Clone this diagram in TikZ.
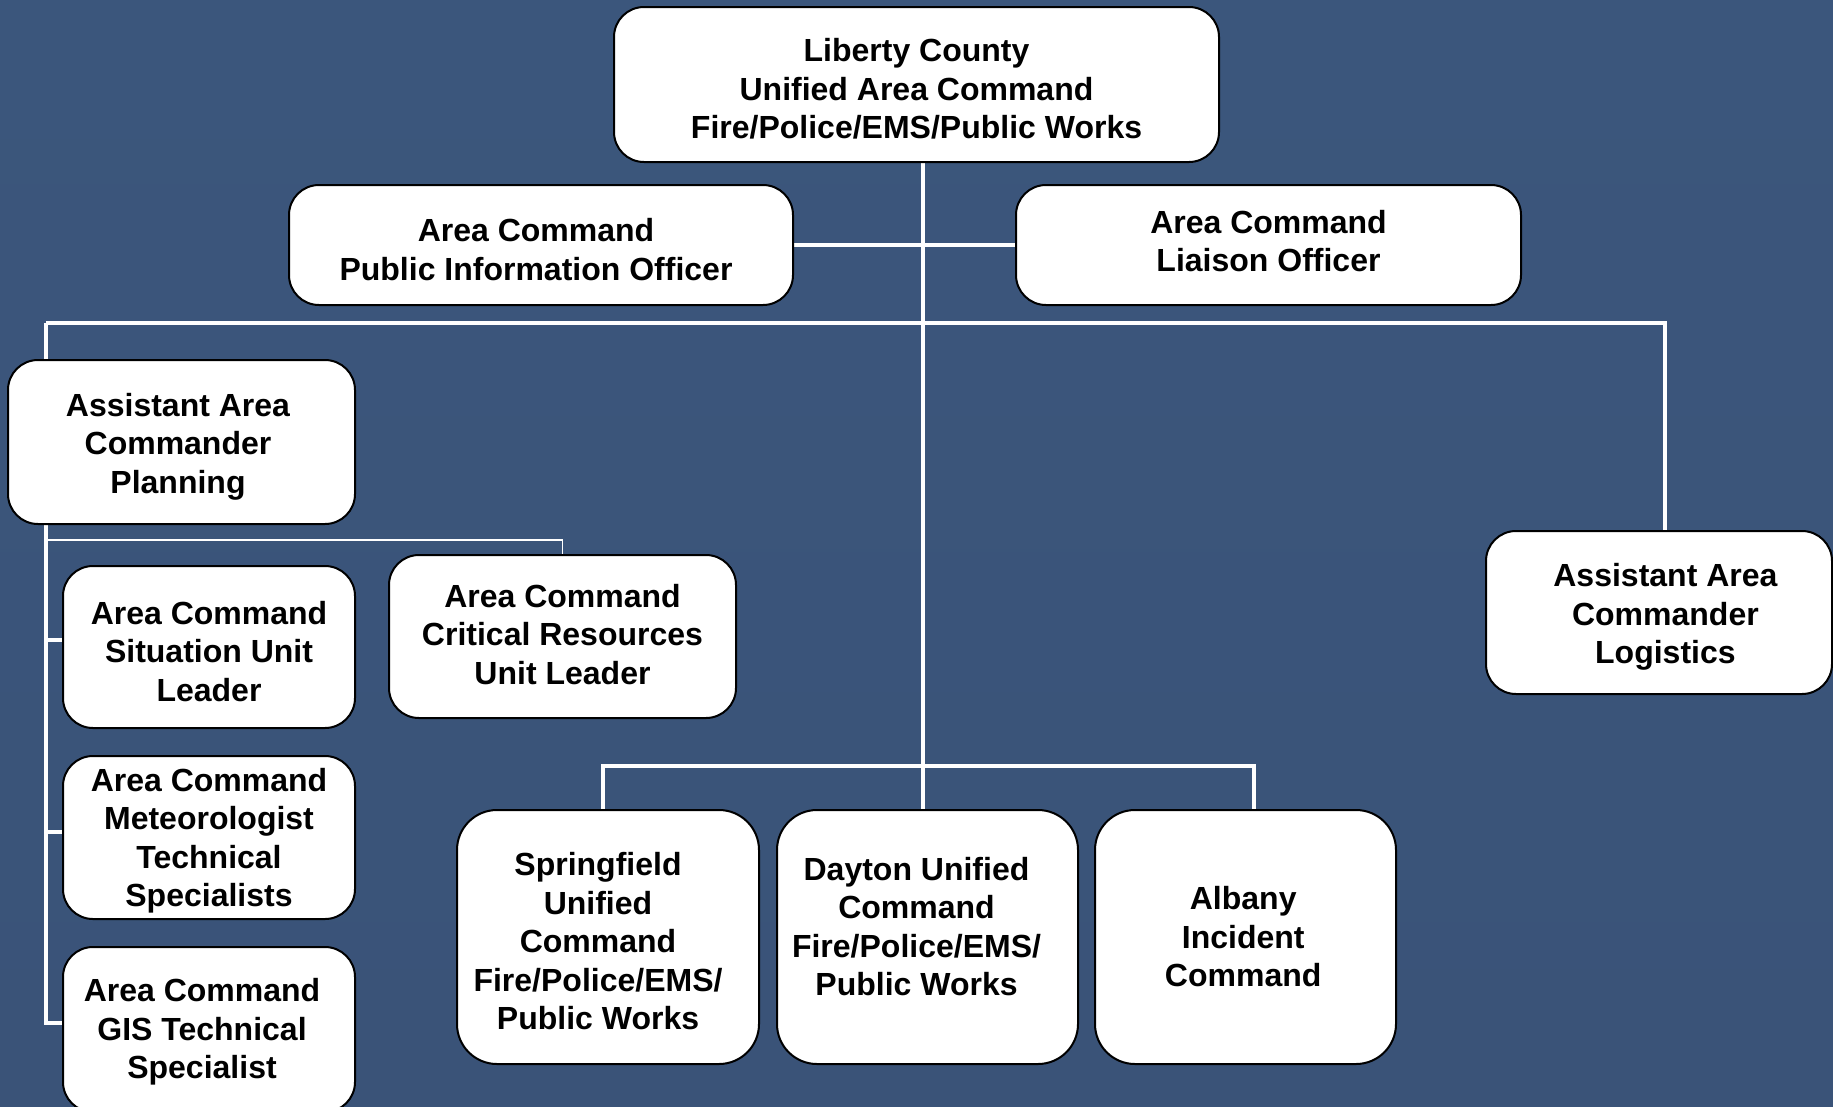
\documentclass[tikz,border=0pt]{standalone}
\usepackage{fontspec}
\setmainfont{Liberation Sans}
\pgfdeclarelayer{bg}
\pgfdeclarelayer{lines}
\pgfsetlayers{bg,lines,main}
\definecolor{bgtop}{RGB}{59,86,124}
\definecolor{bgmid}{RGB}{75,106,149}
\definecolor{bgbot}{RGB}{58,83,120}
\begin{document}
\begin{tikzpicture}[x=1pt,y=-1pt,
  box/.style={draw=black, line width=2pt, fill=white, rounded corners=30pt, inner sep=0pt},
  bigbox/.style={box, rounded corners=40pt},
  txt/.style={align=center, inner sep=0pt, font=\fontsize{32}{38.5}\selectfont\bfseries},
  link/.style={draw=white, line width=4.5pt},
  thinlink/.style={draw=white, line width=1.5pt}]
\useasboundingbox (0,0) rectangle (1833,1106);
\begin{pgfonlayer}{bg}
\shade[top color=bgtop, middle color=bgmid, bottom color=bgbot] (0,0) rectangle (1833,1106);
\end{pgfonlayer}

% boxes
\node[box, minimum width=605pt, minimum height=155pt] (top) at (916.5,84.5) {};
\node[box, minimum width=504pt, minimum height=120pt] (pio) at (541,245) {};
\node[box, minimum width=505pt, minimum height=120pt] (liaison) at (1268.5,245) {};
\node[box, minimum width=347pt, minimum height=164pt] (planning) at (181.5,442) {};
\node[box, minimum width=346pt, minimum height=163pt] (logistics) at (1659,612.5) {};
\node[box, minimum width=292pt, minimum height=162pt] (situation) at (209,647) {};
\node[box, minimum width=347pt, minimum height=163pt] (critical) at (562.5,636.5) {};
\node[box, minimum width=292pt, minimum height=163pt] (meteo) at (209,837.5) {};
\node[box, minimum width=292pt, minimum height=165pt] (gis) at (209,1029.5) {};
\node[bigbox, minimum width=302pt, minimum height=254pt] (springfield) at (608,937) {};
\node[bigbox, minimum width=301pt, minimum height=254pt] (dayton) at (927.5,937) {};
\node[bigbox, minimum width=301pt, minimum height=254pt] (albany) at (1245.5,937) {};

% texts
\node[txt, yshift=-4.7pt] (top-t) at (top) {Liberty County\\Unified Area Command\\Fire/Police/EMS/Public Works};
\node[txt, xshift=-5pt, yshift=-4.7pt] (pio-t) at (pio) {Area Command\\Public Information Officer};
\node[txt, yshift=4pt] (liaison-t) at (liaison) {Area Command\\Liaison Officer};
\node[txt, xshift=-3.5pt, yshift=-4.7pt] (planning-t) at (planning) {Assistant Area\\Commander\\Planning};
\node[txt, xshift=6.4pt, yshift=-4.7pt] (logistics-t) at (logistics) {Assistant Area\\Commander\\Logistics};
\node[txt, yshift=-4.3pt] (situation-t) at (situation) {Area Command\\Situation Unit\\Leader};
\node[txt, yshift=2pt] (critical-t) at (critical) {Area Command\\Critical Resources\\Unit Leader};
\node[txt, yshift=-3pt] (meteo-t) at (meteo) {Area Command\\Meteorologist\\Technical\\Specialists};
\node[txt, xshift=-7pt, yshift=-2.3pt] (gis-t) at (gis) {Area Command\\GIS Technical\\Specialist};
\node[txt, xshift=-10pt, yshift=-4.3pt] (springfield-t) at (springfield) {Springfield\\Unified\\Command\\Fire/Police/EMS/\\Public Works};
\node[txt, xshift=-11pt, yshift=10.3pt] (dayton-t) at (dayton) {Dayton Unified\\Command\\Fire/Police/EMS/\\Public Works};
\node[txt, xshift=-2.3pt] (albany-t) at (albany) {Albany\\Incident\\Command};

% connector points
\coordinate (S) at (923,766);
\coordinate (L) at (46,323);
\coordinate (T) at (46,540);
\coordinate (R) at (1665,323);
\coordinate (P1) at (46,640);
\coordinate (P2) at (46,832);
\coordinate (P3) at (46,1023);
\coordinate (BL) at (603,766);
\coordinate (BR) at (1254,766);

\begin{pgfonlayer}{lines}
\draw[link] (S |- top.south) -- (S |- dayton.north);
\draw[link] (pio.east) -- (liaison.west);
\draw[link] (L) -- (R) -- (R |- logistics.north);
\draw[link] (L) -- (P3) -- (P3 -| gis.west);
\draw[link] (P1) -- (P1 -| situation.west);
\draw[link] (P2) -- (P2 -| meteo.west);
\draw[thinlink] (T) -| (critical.north);
\draw[link] (BL |- springfield.north) -- (BL) -- (BR) -- (BR |- albany.north);
\end{pgfonlayer}
\end{tikzpicture}
\end{document}
